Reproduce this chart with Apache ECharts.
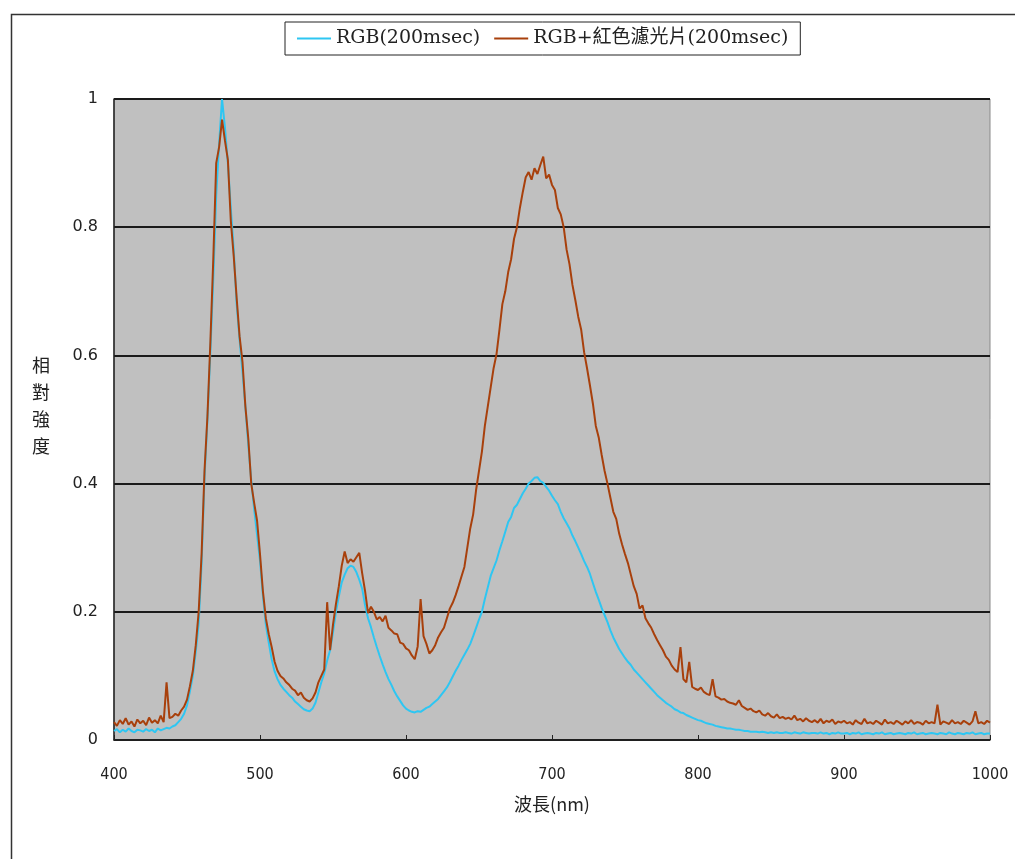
<!DOCTYPE html>
<html>
<head>
<meta charset="utf-8">
<script src="https://cdn.jsdelivr.net/npm/echarts@6/dist/echarts.min.js"></script>
<style>
html,body{margin:0;padding:0;background:#fff;}
#chart{width:1015px;height:859px;}
</style>
</head>
<body>
<div id="chart"></div>
<script>
// wavelength start / step (nm)
var wlStart = 400;
var wlStep = 2;
var xTicks = [400, 500, 600, 700, 800, 900, 1000];
var yTicks = [0, 0.2, 0.4, 0.6, 0.8, 1];
var seriesNames = ['RGB(200msec)', 'RGB+紅色濾光片(200msec)'];

var rgb = [
0.014,0.017,0.012,0.016,0.013,0.018,0.014,0.012,0.016,0.015,
0.013,0.017,0.014,0.016,0.012,0.018,0.015,0.017,0.019,0.018,
0.021,0.023,0.028,0.033,0.041,0.054,0.076,0.100,0.138,0.182,
0.275,0.410,0.500,0.605,0.720,0.850,0.930,1.000,0.955,0.900,
0.830,0.765,0.680,0.625,0.575,0.520,0.460,0.405,0.360,0.320,
0.280,0.225,0.180,0.152,0.126,0.107,0.095,0.086,0.080,0.075,
0.070,0.066,0.060,0.056,0.052,0.048,0.046,0.045,0.049,0.058,
0.074,0.090,0.104,0.124,0.140,0.168,0.200,0.224,0.246,0.258,
0.268,0.272,0.270,0.262,0.250,0.236,0.210,0.190,0.176,0.160,
0.145,0.131,0.118,0.106,0.095,0.086,0.076,0.068,0.061,0.054,
0.049,0.046,0.044,0.043,0.045,0.044,0.047,0.050,0.052,0.056,
0.060,0.064,0.070,0.076,0.082,0.090,0.099,0.108,0.116,0.125,
0.133,0.141,0.150,0.162,0.175,0.188,0.200,0.220,0.238,0.256,
0.268,0.280,0.296,0.310,0.325,0.340,0.348,0.362,0.367,0.376,
0.385,0.392,0.400,0.404,0.409,0.410,0.404,0.401,0.395,0.389,
0.381,0.374,0.368,0.356,0.346,0.338,0.330,0.319,0.310,0.300,
0.290,0.279,0.270,0.259,0.245,0.231,0.219,0.206,0.195,0.184,
0.171,0.160,0.151,0.142,0.135,0.128,0.122,0.117,0.110,0.105,
0.100,0.095,0.090,0.085,0.080,0.075,0.070,0.066,0.062,0.058,
0.055,0.052,0.048,0.046,0.043,0.042,0.039,0.037,0.035,0.033,
0.031,0.030,0.028,0.026,0.025,0.024,0.022,0.021,0.020,0.019,
0.018,0.018,0.017,0.016,0.016,0.015,0.014,0.014,0.013,0.013,
0.013,0.012,0.013,0.012,0.011,0.012,0.011,0.012,0.011,0.011,
0.012,0.011,0.010,0.012,0.011,0.010,0.012,0.011,0.010,0.011,
0.011,0.010,0.012,0.010,0.011,0.009,0.011,0.010,0.012,0.010,
0.010,0.011,0.009,0.011,0.010,0.012,0.009,0.010,0.011,0.010,
0.009,0.011,0.010,0.012,0.009,0.010,0.011,0.009,0.010,0.011,
0.010,0.009,0.011,0.010,0.012,0.009,0.010,0.011,0.009,0.010,
0.011,0.010,0.009,0.011,0.010,0.009,0.012,0.010,0.009,0.011,
0.010,0.009,0.011,0.010,0.012,0.009,0.010,0.011,0.009,0.010,
0.010
];

var rgbRed = [
0.028,0.022,0.031,0.025,0.034,0.024,0.029,0.021,0.032,0.026,
0.030,0.023,0.035,0.027,0.031,0.026,0.038,0.028,0.090,0.034,
0.036,0.041,0.038,0.046,0.052,0.063,0.084,0.108,0.148,0.200,
0.290,0.420,0.505,0.620,0.750,0.900,0.925,0.968,0.935,0.905,
0.810,0.755,0.690,0.630,0.590,0.520,0.470,0.400,0.370,0.342,
0.290,0.232,0.190,0.165,0.145,0.122,0.108,0.100,0.096,0.090,
0.086,0.080,0.077,0.070,0.074,0.066,0.062,0.060,0.065,0.074,
0.090,0.100,0.110,0.215,0.140,0.180,0.212,0.240,0.272,0.294,
0.276,0.282,0.278,0.285,0.292,0.260,0.232,0.198,0.208,0.200,
0.188,0.192,0.185,0.194,0.175,0.171,0.166,0.165,0.152,0.150,
0.143,0.140,0.132,0.126,0.146,0.220,0.162,0.150,0.135,0.140,
0.148,0.160,0.168,0.175,0.190,0.205,0.214,0.226,0.240,0.255,
0.270,0.300,0.330,0.352,0.390,0.420,0.450,0.490,0.520,0.550,
0.580,0.602,0.640,0.680,0.700,0.730,0.750,0.782,0.800,0.830,
0.855,0.878,0.886,0.874,0.892,0.883,0.897,0.910,0.876,0.882,
0.866,0.858,0.830,0.820,0.800,0.765,0.742,0.710,0.686,0.660,
0.640,0.605,0.580,0.553,0.525,0.490,0.472,0.445,0.420,0.400,
0.378,0.356,0.345,0.322,0.305,0.290,0.276,0.258,0.240,0.228,
0.205,0.210,0.190,0.182,0.175,0.165,0.156,0.148,0.140,0.130,
0.125,0.116,0.110,0.106,0.145,0.095,0.090,0.122,0.083,0.080,
0.078,0.082,0.075,0.072,0.070,0.095,0.068,0.066,0.063,0.064,
0.060,0.058,0.057,0.055,0.062,0.053,0.050,0.047,0.049,0.045,
0.043,0.046,0.040,0.038,0.042,0.037,0.035,0.040,0.034,0.036,
0.033,0.035,0.032,0.038,0.031,0.033,0.029,0.034,0.030,0.028,
0.031,0.027,0.033,0.026,0.030,0.028,0.032,0.025,0.029,0.027,
0.030,0.026,0.028,0.024,0.031,0.027,0.025,0.033,0.026,0.028,
0.025,0.030,0.027,0.024,0.032,0.026,0.028,0.025,0.030,0.027,
0.024,0.029,0.026,0.031,0.025,0.028,0.027,0.024,0.030,0.026,
0.028,0.026,0.055,0.024,0.029,0.027,0.025,0.031,0.026,0.028,
0.025,0.030,0.027,0.024,0.029,0.045,0.026,0.028,0.025,0.030,
0.027
];

function toPairs(arr){
  return arr.map(function(v,i){ return [wlStart + i*wlStep, v]; });
}

var chart = echarts.init(document.getElementById('chart'));
var txtFont = '"DejaVu Serif","Noto Sans CJK TC",serif';
var numFont = '"DejaVu Sans Condensed","Liberation Sans Narrow","Liberation Sans",sans-serif';

chart.setOption({
  backgroundColor: '#ffffff',
  animation: false,
  graphic: [{
    type: 'rect', left: 9, top: 12,
    shape: {width: 1010, height: 850},
    style: {fill: 'none', stroke: '#333', lineWidth: 1.5},
    silent: true, z: -1
  }, {
    type: 'text', left: 32, top: 352,
    style: {text: '相\n對\n強\n度', font: '18px "Noto Sans CJK TC"', lineHeight: 27, fill: '#222'}
  }],
  legend: {
    top: 22, left: 285,
    data: seriesNames,
    backgroundColor: '#fff',
    borderColor: '#222', borderWidth: 1,
    padding: [7, 12, 7, 12],
    itemGap: 14, itemWidth: 34, itemHeight: 2,
    icon: 'rect',
    textStyle: {fontSize: 19, fontFamily: txtFont, color: '#222'}
  },
  grid: {
    left: 114, right: 25, top: 99, bottom: 119,
    show: true, backgroundColor: '#c0c0c0',
    borderColor: '#8a8a8a', borderWidth: 1
  },
  xAxis: {
    type: 'value', min: 400, max: 1000, interval: 100,
    name: '波長(nm)', nameLocation: 'middle', nameGap: 55,
    nameTextStyle: {fontSize: 18, fontFamily: '"Noto Sans CJK TC"', color: '#222'},
    axisLine: {lineStyle: {color: '#222', width: 1.5}},
    axisTick: {show: true, inside: true, length: 5, lineStyle: {color: '#222'}},
    axisLabel: {fontSize: 16, margin: 27, color: '#222', fontFamily: numFont,
      formatter: function(v){ return String(v); }},
    splitLine: {show: false}
  },
  yAxis: {
    type: 'value', min: 0, max: 1, interval: 0.2,
    axisLine: {show: true, lineStyle: {color: '#222', width: 1.5}},
    axisTick: {show: false},
    axisLabel: {fontSize: 16, margin: 16, color: '#222', fontFamily: '"DejaVu Sans",sans-serif',
      formatter: function(v){ return String(Math.round(v*10)/10); }},
    splitLine: {show: true, lineStyle: {color: '#1a1a1a', width: 2}}
  },
  series: [{
    name: seriesNames[0], type: 'line', data: toPairs(rgb),
    showSymbol: false, symbol: 'none',
    lineStyle: {color: '#2ec6f2', width: 2},
    itemStyle: {color: '#2ec6f2'}, z: 2
  }, {
    name: seriesNames[1], type: 'line', data: toPairs(rgbRed),
    showSymbol: false, symbol: 'none',
    lineStyle: {color: '#a8400c', width: 2},
    itemStyle: {color: '#a8400c'}, z: 3
  }]
});
</script>
</body>
</html>
